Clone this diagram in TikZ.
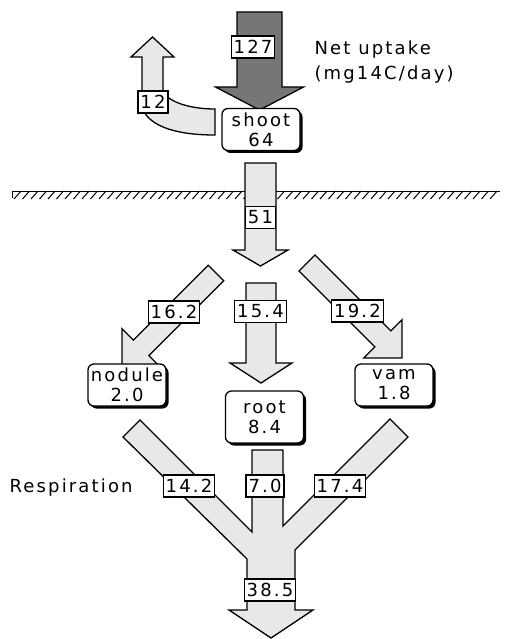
\documentclass[tikz,border=0pt]{standalone}
\usepackage{fontspec}
\setmainfont{DejaVu Sans}[LetterSpace=12]
\usepackage{xcolor}
\definecolor{cFlow}{HTML}{E8E8E8}
\definecolor{cUptake}{HTML}{767676}
\usetikzlibrary{calc,shadows}
\tikzset{
  node-organ/.style={draw,line width=1.3pt,rounded corners=6pt,fill=white,
    align=center,minimum width=78pt,minimum height=42pt,inner sep=2pt,
    font=\fontsize{18}{20}\selectfont,
    drop shadow={shadow xshift=2.5pt,shadow yshift=-2.5pt,fill=black,opacity=1}},
  node-value/.style={draw,line width=1.2pt,fill=white,inner xsep=2.5pt,
    inner ysep=2pt,minimum height=22pt,font=\fontsize{18}{20}\selectfont},
  node-text/.style={anchor=west,align=left,font=\fontsize{18}{25}\selectfont},
  flow/.style={draw,line width=1.3pt,fill=cFlow},
  % block arrow: half shaft, half head, head length
  fat-arrow/.style n args={3}{to path={
    let \p1=(\tikztostart), \p2=(\tikztotarget),
        \n1={atan2(\y2-\y1,\x2-\x1)}, \n2={veclen(\x2-\x1,\y2-\y1)-#3}
    in ($(\p1)+(\n1+90:#1)$) -- ($(\p1)+(\n1:\n2)+(\n1+90:#1)$)
    -- ($(\p1)+(\n1:\n2)+(\n1+90:#2)$) -- (\p2)
    -- ($(\p1)+(\n1:\n2)+(\n1-90:#2)$) -- ($(\p1)+(\n1:\n2)+(\n1-90:#1)$)
    -- ($(\p1)+(\n1-90:#1)$) -- cycle}},
  ground/.style={line width=1pt},
}
\begin{document}
\begin{tikzpicture}[x=1pt,y=1pt]
  \useasboundingbox (0,0) rectangle (505,-639);

  % soil surface
  \draw[ground] (12,-191) -- (500,-191);
  \draw[ground] (12,-191) -- (12,-198);
  \foreach \x in {14,22.5,...,496} \draw[ground] (\x,-199) -- (\x+7,-191);

  \coordinate (in-top)   at (259.5,-12);
  \coordinate (in-tip)   at (259.5,-110);
  \coordinate (soil-top) at (260.5,-163);
  \coordinate (soil-tip) at (260.5,-266);
  \coordinate (nod-top)  at (216,-273);
  \coordinate (nod-tip)  at (122,-367);
  \coordinate (root-top) at (261,-283);
  \coordinate (root-tip) at (261,-383);
  \coordinate (vam-top)  at (307,-263);
  \coordinate (vam-tip)  at (402,-358);

  \draw[flow,fill=cUptake,fat-arrow={22.5pt}{44pt}{23pt}] (in-top) to (in-tip);
  \draw[flow,fat-arrow={15.5pt}{27.5pt}{16pt}] (soil-top) to (soil-tip);
  \draw[flow,fat-arrow={11pt}{27pt}{27pt}] (nod-top) to (nod-tip);
  \draw[flow,fat-arrow={15pt}{31pt}{20pt}] (root-top) to (root-tip);
  \draw[flow,fat-arrow={11.3pt}{27pt}{27pt}] (vam-top) to (vam-tip);

  % loss from the shoot
  \draw[flow] (215,-109) .. controls (192,-109) and (170,-103) .. (163,-92)
    -- (163,-57) -- (174,-57) -- (152.5,-37) -- (131,-57) -- (142,-57)
    -- (142,-108) .. controls (150,-128) and (180,-135) .. (215,-135) -- cycle;

  % respiration
  \draw[flow] (140,-420) -- (252,-532) -- (252,-450) -- (283,-450)
    -- (283,-526) -- (390,-419) -- (408,-437) -- (295,-550) -- (295,-610)
    -- (313,-610) -- (271,-638) -- (229,-610) -- (247,-610) -- (247,-559)
    -- (123,-437) -- cycle;

  \node[node-organ] (shoot)  at (261,-129.5) {shoot\\64};
  \node[node-organ] (nodule) at (127,-385)   {nodule\\2.0};
  \node[node-organ,minimum height=52pt] (root) at (264.5,-417) {root\\8.4};
  \node[node-organ] (vam)    at (394,-385)   {vam\\1.8};

  \foreach \name/\x/\y/\val in {v127/253/47/127, v12/153/102/12,
      v51/260.5/217.5/51, v162/174/312/16.2, v154/260.5/311.5/15.4,
      v192/357.5/311/19.2, v142/189/486/14.2, v70/265/486/7.0,
      v174/340/486/17.4, v385/270/590/38.5}
    \node[node-value] (\name) at (\x,-\y) {\val};

  \node[node-text] (uptake) at (311,-62) {Net uptake\\(mg14C/day)};
  \node[node-text] (resp) at (6,-488) {Respiration};
\end{tikzpicture}
\end{document}
